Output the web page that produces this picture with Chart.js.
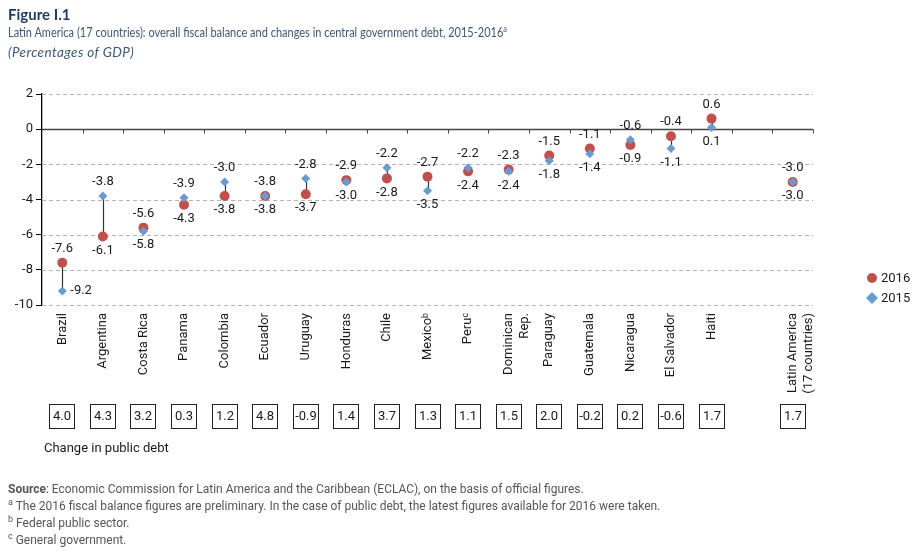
<!DOCTYPE html>
<html>
<head>
<meta charset="utf-8">
<title>Figure I.1</title>
<script src="https://cdn.jsdelivr.net/npm/chart.js@4.4.1/dist/chart.umd.min.js"></script>
<style>
    body { margin: 0; background: #fff; }
    #wrap { position: relative; width: 921px; height: 555px; overflow: hidden; }
    #wrap canvas { position: absolute; left: 0; top: 0; }
    .txt { position: absolute; left: 8px; white-space: nowrap; pointer-events: none; transform-origin: 0 0; }
    .fig { top: 5px; font: bold 15px 'Lato', sans-serif; color: #1f3a5c; }
    .sub { top: 24px; font: 13.5px 'Lato', sans-serif; color: #3d5878; transform: scaleX(0.815); }
    .unit { top: 44px; font: italic 13.5px 'Lato', sans-serif; color: #3d5878; letter-spacing: 0.4px; }
    .notes { top: 481px; font: 12px 'Roboto', sans-serif; color: #555; line-height: 17px; }
    sup { font-size: 9px; line-height: 0; }
</style>
</head>
<body>
<div id="wrap">
    <canvas id="fiscalChart" width="921" height="555"></canvas>
    <div class="txt fig">Figure I.1</div>
    <div class="txt sub">Latin America (17 countries): overall fiscal balance and changes in central government debt, 2015-2016<sup>a</sup></div>
    <div class="txt unit">(Percentages of GDP)</div>
    <div class="txt notes">
        <div><b>Source</b>: Economic Commission for Latin America and the Caribbean (ECLAC), on the basis of official figures.</div>
        <div><sup>a</sup> The 2016 fiscal balance figures are preliminary. In the case of public debt, the latest figures available for 2016 were taken.</div>
        <div><sup>b</sup> Federal public sector.</div>
        <div><sup>c</sup> General government.</div>
    </div>
</div>
<script>
// categories (index 17 is the empty gap before the regional total)
var countries = ['Brazil', 'Argentina', 'Costa Rica', 'Panama', 'Colombia', 'Ecuador', 'Uruguay', 'Honduras',
    'Chile', 'Mexico\u1d47', 'Peru\u1d9c', ['Dominican', 'Rep.'], 'Paraguay', 'Guatemala', 'Nicaragua',
    'El Salvador', 'Haiti', '', ['Latin America', '(17 countries)']];

var balance2016 = [-7.6, -6.1, -5.6, -4.3, -3.8, -3.8, -3.7, -2.9, -2.8, -2.7, -2.4, -2.3, -1.5, -1.1, -0.9, -0.4, 0.6, null, -3.0];
var balance2015 = [-9.2, -3.8, -5.8, -3.9, -3.0, -3.8, -2.8, -3.0, -2.2, -3.5, -2.2, -2.4, -1.8, -1.4, -0.6, -1.1, 0.1, null, -3.0];
var debtChange  = [4.0, 4.3, 3.2, 0.3, 1.2, 4.8, -0.9, 1.4, 3.7, 1.3, 1.1, 1.5, 2.0, -0.2, 0.2, -0.6, 1.7, null, 1.7];

var yMin = -10, yMax = 2, yStep = 2;

var RED = '#c0504d';
var BLUE = '#6a9bd0';
var NARROW = "'Roboto', sans-serif";

function fmt(v){ return v.toFixed(1); }

var extrasPlugin = {
    id: 'extras',
    beforeDatasetsDraw: function(chart){
        var ctx = chart.ctx, area = chart.chartArea;
        var x = chart.scales.x, y = chart.scales.y;
        ctx.save();
        // dashed gridlines
        ctx.strokeStyle = '#b4b4b4';
        ctx.lineWidth = 1;
        ctx.setLineDash([4, 3]);
        for (var v = yMin; v <= yMax; v += yStep){
            if (v === 0) continue;
            var py = Math.round(y.getPixelForValue(v)) + 0.5;
            ctx.beginPath(); ctx.moveTo(area.left, py); ctx.lineTo(area.right, py); ctx.stroke();
        }
        ctx.setLineDash([]);
        // zero line with category ticks
        var y0 = Math.round(y.getPixelForValue(0)) + 0.5;
        ctx.strokeStyle = '#444';
        ctx.lineWidth = 1.3;
        ctx.beginPath(); ctx.moveTo(area.left, y0); ctx.lineTo(area.right, y0); ctx.stroke();
        ctx.lineWidth = 1;
        var n = countries.length, w = (area.right - area.left) / n;
        for (var i = 1; i <= n; i++){
            var tx = Math.round(area.left + i * w) + 0.5;
            ctx.beginPath(); ctx.moveTo(tx, y0); ctx.lineTo(tx, y0 + 4); ctx.stroke();
        }
        // connectors between 2015 and 2016
        ctx.strokeStyle = '#333';
        ctx.lineWidth = 1.2;
        for (var j = 0; j < n; j++){
            var a = balance2016[j], b = balance2015[j];
            if (a === null || b === null || a === b) continue;
            var cx = Math.round(x.getPixelForValue(j)) + 0.5;
            ctx.beginPath(); ctx.moveTo(cx, y.getPixelForValue(a)); ctx.lineTo(cx, y.getPixelForValue(b)); ctx.stroke();
        }
        ctx.restore();
    },
    afterDraw: function(chart){
        var ctx = chart.ctx, area = chart.chartArea;
        var x = chart.scales.x, y = chart.scales.y;
        ctx.save();
        ctx.font = '13px ' + NARROW;
        ctx.fillStyle = '#1a1a1a';
        ctx.textBaseline = 'middle';
        // value labels
        for (var i = 0; i < countries.length; i++){
            var a = balance2016[i], b = balance2015[i];
            if (a === null || b === null) continue;
            var hi = Math.max(a, b), lo = Math.min(a, b);
            var cx = x.getPixelForValue(i);
            ctx.textAlign = 'center';
            ctx.fillText(fmt(hi), cx, y.getPixelForValue(hi) - 14);
            var ly = y.getPixelForValue(lo) + 14;
            if (ly > area.bottom - 6){
                ctx.textAlign = 'left';
                ctx.fillText(fmt(lo), cx + 8, y.getPixelForValue(lo));
            } else {
                ctx.fillText(fmt(lo), cx, ly);
            }
        }
        // change in public debt boxes
        var boxTop = area.bottom + 99;
        ctx.strokeStyle = '#222';
        ctx.lineWidth = 1;
        ctx.textAlign = 'center';
        for (var k = 0; k < debtChange.length; k++){
            if (debtChange[k] === null) continue;
            var bx = Math.round(x.getPixelForValue(k));
            ctx.strokeRect(bx - 12.5, boxTop + 0.5, 25, 24);
            ctx.fillText(fmt(debtChange[k]), bx, boxTop + 13);
        }
        ctx.textAlign = 'left';
        ctx.fillText('Change in public debt', 44, boxTop + 45);
        // legend
        var lx = area.right + 59;
        ctx.fillStyle = RED;
        ctx.beginPath(); ctx.arc(lx, 278, 5, 0, Math.PI * 2); ctx.fill();
        ctx.fillStyle = BLUE;
        ctx.beginPath();
        ctx.moveTo(lx, 292); ctx.lineTo(lx + 6, 298); ctx.lineTo(lx, 304); ctx.lineTo(lx - 6, 298);
        ctx.closePath(); ctx.fill();
        ctx.fillStyle = '#1a1a1a';
        ctx.fillText('2016', lx + 9, 279);
        ctx.fillText('2015', lx + 9, 299);
        ctx.restore();
    }
};

var ctx = document.getElementById('fiscalChart');
var fiscalChart = new Chart(ctx, {
    type: 'line',
    plugins: [extrasPlugin],
    data: {
        labels: countries,
        datasets: [{
            label: '2015',
            data: balance2015,
            showLine: false,
            pointStyle: 'rectRot',
            pointRadius: 4.5,
            pointBorderWidth: 0,
            pointBackgroundColor: BLUE,
            order: 1
        }, {
            label: '2016',
            data: balance2016,
            showLine: false,
            pointStyle: 'circle',
            pointRadius: 5,
            pointBorderWidth: 0,
            pointBackgroundColor: RED,
            order: 2
        }]
    },
    options: {
        responsive: false,
        animation: false,
        devicePixelRatio: 1,
        layout: { padding: { top: 94, right: 108, bottom: 0, left: 0 } },
        plugins: {
            legend: { display: false },
            tooltip: { enabled: false }
        },
        scales: {
            x: {
                offset: true,
                grid: { display: false, drawTicks: false },
                border: { display: false },
                ticks: {
                    autoSkip: false,
                    minRotation: 90,
                    maxRotation: 90,
                    padding: 8,
                    color: '#1a1a1a',
                    font: { family: NARROW, size: 13 }
                },
                afterFit: function(scale){ scale.height = 250; }
            },
            y: {
                min: yMin,
                max: yMax,
                ticks: {
                    stepSize: yStep,
                    padding: 3,
                    color: '#1a1a1a',
                    font: { family: NARROW, size: 13 }
                },
                grid: { drawOnChartArea: false, tickLength: 6, tickColor: '#000', tickBorderDash: [] },
                border: { display: true, color: '#000', width: 1.3 },
                afterFit: function(scale){ scale.width = 42; }
            }
        }
    }
});
</script>
</body>
</html>
